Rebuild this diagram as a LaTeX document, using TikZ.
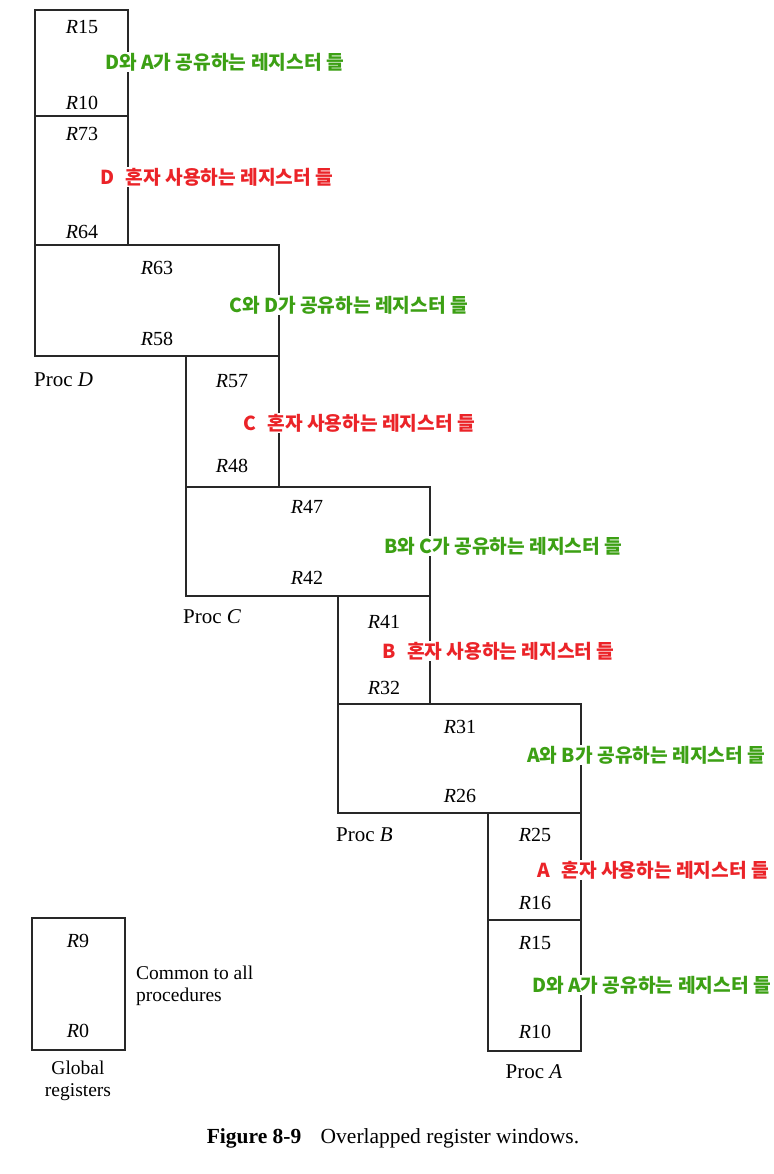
\documentclass[tikz,border=0pt]{standalone}
\usepackage{fontspec}
\setmainfont{Liberation Serif}
\newfontfamily\kfont{Noto Sans CJK KR}
\definecolor{shared}{RGB}{60,160,20}
\definecolor{private}{RGB}{235,35,40}
\definecolor{frame}{RGB}{40,40,40}

\begin{document}
\begin{tikzpicture}[x=1pt, y=-1pt,
  win/.style={draw=frame, line width=2.2pt},
  reg/.style={inner sep=0pt, font=\fontsize{20}{20}\selectfont},
  proc/.style={inner sep=0pt, anchor=west, font=\fontsize{21}{21}\selectfont},
  twoline/.style={inner sep=0pt, align=center, font=\fontsize{19.5}{22}\selectfont},
  note/.style={inner sep=1pt, fill=white, anchor=west,
    font=\kfont\bfseries\fontsize{19.2}{19.2}\selectfont},
  shr/.style={note, text=shared},
  own/.style={note, text=private}
]
\useasboundingbox (0,0) rectangle (773,1174);

% Register windows, Proc D down to Proc A.
\draw[win] (35,10) rectangle (128,245);
\draw[win] (35,116) -- (128,116);
\draw[win] (35,245) rectangle (279,356);
\draw[win] (186,356) rectangle (279,487);
\draw[win] (186,487) rectangle (430,596);
\draw[win] (338,596) rectangle (430,704);
\draw[win] (338,704) rectangle (581,813);
\draw[win] (488,813) rectangle (581,920);
\draw[win] (488,920) rectangle (581,1051);
\draw[win] (32,918) rectangle (125,1050);

\node[reg] (dtop) at (82,27) {\textit{R}15};
\node[reg] (dbot) at (82,103) {\textit{R}10};
\node[reg] (dhi) at (82,134) {\textit{R}73};
\node[reg] (dlo) at (82,232) {\textit{R}64};
\node[reg] (cdhi) at (157,268) {\textit{R}63};
\node[reg] (cdlo) at (157,339) {\textit{R}58};
\node[proc] (procd) at (34,380) {Proc \textit{D}};

\node[reg] (chi) at (232,381) {\textit{R}57};
\node[reg] (clo) at (232,466) {\textit{R}48};
\node[reg] (bchi) at (307,507) {\textit{R}47};
\node[reg] (bclo) at (307,578) {\textit{R}42};
\node[proc] (procc) at (183,617) {Proc \textit{C}};

\node[reg] (bhi) at (384,622) {\textit{R}41};
\node[reg] (blo) at (384,688) {\textit{R}32};
\node[reg] (abhi) at (460,727) {\textit{R}31};
\node[reg] (ablo) at (460,796) {\textit{R}26};
\node[proc] (procb) at (336,835) {Proc \textit{B}};

\node[reg] (ahi) at (535,835) {\textit{R}25};
\node[reg] (alo) at (535,903) {\textit{R}16};
\node[reg] (dahi) at (535,943) {\textit{R}15};
\node[reg] (dalo) at (535,1032) {\textit{R}10};
\node[proc, anchor=center] (proca) at (534,1072) {Proc \textit{A}};

\node[reg] (ghi) at (78,941) {\textit{R}9};
\node[reg] (glo) at (78,1031) {\textit{R}0};
\node[twoline] (global) at (78,1081) {Global\\registers};
\node[twoline, anchor=west, align=left] (common) at (136,986) {Common to all\\procedures};

% Korean notes sit on top of the window edges.
\node[shr] (sharedda) at (104,62) {D와 A가 공유하는 레지스터 들};
\node[own] (ownd) at (99,177) {D\hspace{0.6em}혼자 사용하는 레지스터 들};
\node[shr] (sharedcd) at (228,305) {C와 D가 공유하는 레지스터 들};
\node[own] (ownc) at (242,423) {C\hspace{0.6em}혼자 사용하는 레지스터 들};
\node[shr] (sharedbc) at (383,546) {B와 C가 공유하는 레지스터 들};
\node[own] (ownb) at (381,651) {B\hspace{0.6em}혼자 사용하는 레지스터 들};
\node[shr] (sharedab) at (526,755) {A와 B가 공유하는 레지스터 들};
\node[own] (owna) at (536,870) {A\hspace{0.6em}혼자 사용하는 레지스터 들};
\node[shr] (sharedda2) at (531,985) {D와 A가 공유하는 레지스터 들};

\node[inner sep=0pt, font=\fontsize{21.5}{21.5}\selectfont] (caption) at (393,1138)
  {\textbf{Figure 8-9}\hspace{0.9em}Overlapped register windows.};

\end{tikzpicture}
\end{document}
